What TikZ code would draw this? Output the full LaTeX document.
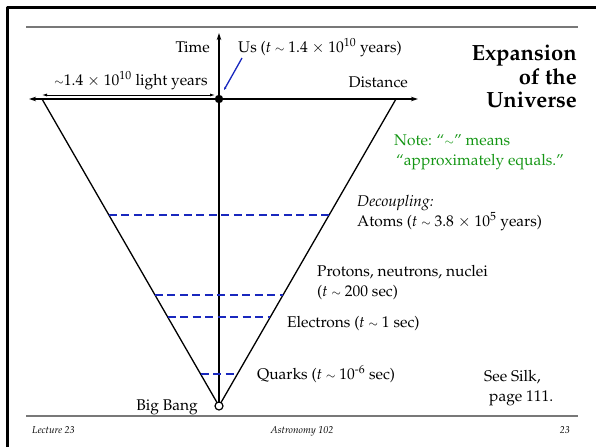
\documentclass[tikz,border=0pt]{standalone}
\usepackage[T1]{fontenc}
\usepackage{mathpazo}
\usetikzlibrary{calc,arrows.meta}
\definecolor{epochblue}{RGB}{25,40,190}
\definecolor{notegreen}{RGB}{20,150,20}
\definecolor{rulegray}{RGB}{120,120,120}
\newcommand{\apx}{{\fontsize{11.5}{12}\selectfont$\sim$}}

\begin{document}
\begin{tikzpicture}[x=1pt,y=-1pt,line join=round,
  axis/.style={line width=1.5pt},
  cone/.style={line width=1.3pt},
  epoch/.style={line width=1.3pt,epochblue,dash pattern=on 8pt off 4.5pt},
  lbl/.style={inner sep=0pt,font=\fontsize{15.5}{20}\selectfont},
  foot/.style={inner sep=0pt,font=\fontsize{10}{12}\selectfont\itshape}]
  \useasboundingbox (0,0) rectangle (596,447);
  % frame and rules
  \draw[line width=2.5pt] (7.5,447) -- (7.5,7.5) -- (596,7.5);
  \draw[rulegray,line width=1.3pt] (26,27) -- (578,27);
  \draw[rulegray,line width=1.3pt] (26,416) -- (578,416);
  % axes and cone
  \coordinate (O) at (219,99);
  \coordinate (B) at (219,406);
  \coordinate (L) at (42,99);
  \coordinate (R) at (396,99);
  \coordinate (T) at (219,33);
  \coordinate (XL) at (29,99);
  \coordinate (XR) at (418,99);
  \draw[axis,-{Stealth[length=7pt,width=4.5pt]}] (B) -- (T);
  \draw[axis,{Stealth[length=7pt,width=4.5pt]}-{Stealth[length=7pt,width=4.5pt]}] (XL) -- (XR);
  \draw[cone] (L) -- (B) -- (R);
  \foreach \t in {0.378,0.638,0.710,0.896}
    \draw[epoch] ($(L)!\t!(B)$) -- ($(R)!\t!(B)$);
  \coordinate (DL) at (42,95);
  \coordinate (DR) at (215,95);
  \draw[line width=0.8pt,{Latex[length=5pt,width=3pt]}-{Latex[length=5pt,width=3pt]}] (DL) -- (DR);
  \fill (O) circle (4.2);
  \draw[line width=1.2pt,fill=white] (B) circle (4);
  % pointer to us
  \coordinate (P) at (242,58);
  \coordinate (Q) at (224,90);
  \draw[epochblue,line width=1.3pt,-{Stealth[length=3pt,width=2.5pt]}] (P) -- (Q);
  % labels
  \node[lbl,anchor=base east] (time) at (210,52.5) {Time};
  \node[lbl,anchor=base west] (us) at (238,52.5) {Us (\textit{t} \apx{} 1.4 $\times$ 10\textsuperscript{10} years)};
  \node[lbl,anchor=base] (width) at (131,85) {\apx1.4 $\times$ 10\textsuperscript{10} light years};
  \node[lbl,anchor=base east] (dist) at (408,87) {Distance};
  \node[inner sep=0pt,anchor=north east,align=right,font=\fontsize{22}{23.5}\selectfont\bfseries] (title) at (577,45) {Expansion\\of the\\Universe};
  \node[lbl,anchor=north west,align=left,text=notegreen] (note) at (394,135) {Note: ``\apx'' means\\\hspace*{2pt}``approximately equals.''};
  \node[lbl,anchor=north west,align=left] (atoms) at (357,195) {\textit{Decoupling:}\\Atoms (\textit{t} \apx{} 3.8 $\times$ 10\textsuperscript{5} years)};
  \node[lbl,anchor=north west,align=left] (nuclei) at (317,265) {Protons, neutrons, nuclei\\(\textit{t} \apx{} 200 sec)};
  \node[lbl,anchor=base west] (elec) at (287,327) {Electrons (\textit{t} \apx{} 1 sec)};
  \node[lbl,anchor=base west] (quarks) at (257,379) {Quarks (\textit{t} \apx{} 10\textsuperscript{-6} sec)};
  \node[lbl,anchor=base east] (bang) at (198,410) {Big Bang};
  \node[lbl,anchor=north west,align=left] (silk) at (484,370) {See Silk,\\\hspace*{5pt}page 111.};
  % footer
  \node[foot,anchor=base west] (lect) at (32,433) {Lecture 23};
  \node[foot,anchor=base] (course) at (302,433) {Astronomy 102};
  \node[foot,anchor=base east] (page) at (570,433) {23};
\end{tikzpicture}
\end{document}
